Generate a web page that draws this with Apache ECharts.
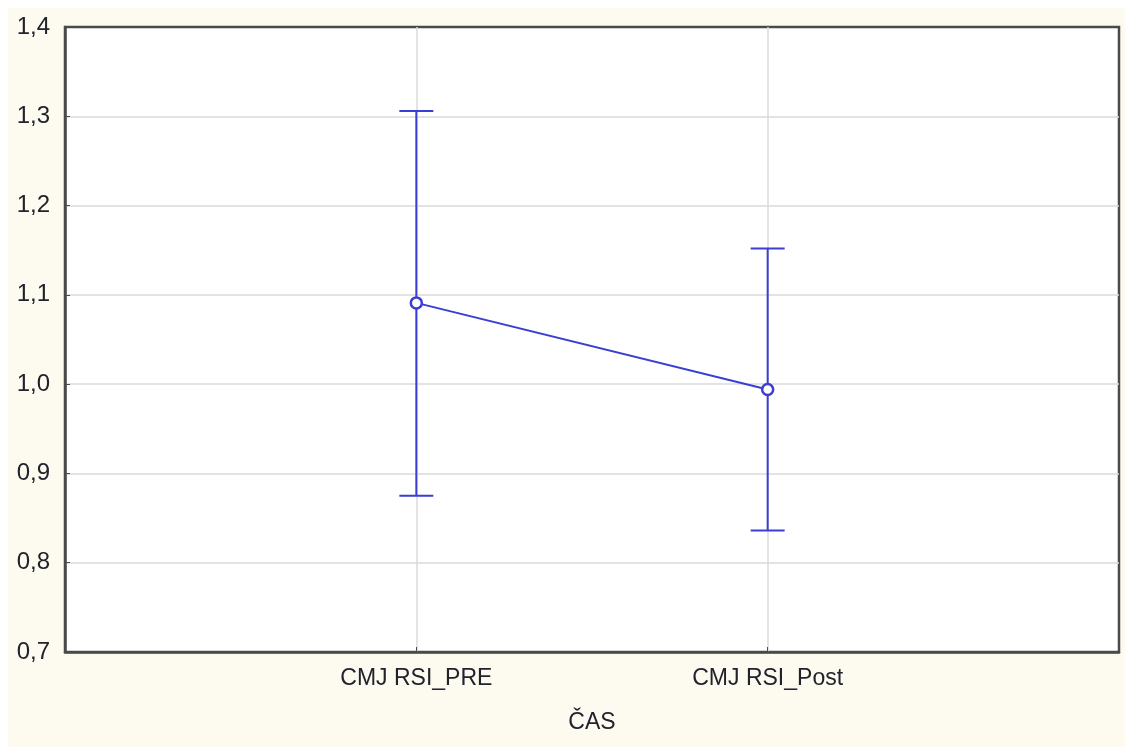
<!DOCTYPE html>
<html>
<head>
<meta charset="utf-8">
<script src="https://cdn.jsdelivr.net/npm/echarts@6/dist/echarts.min.js"></script>
<style>
html,body{margin:0;padding:0;background:#fff;}
#c{width:1136px;height:747px;}
</style>
</head>
<body>
<div id="c"></div>
<script>
var categories = ['CMJ RSI_PRE', 'CMJ RSI_Post'];
var categoryPos = [1, 2];
var means = [1.091, 0.994];
var upper = [1.306, 1.152];
var lower = [0.875, 0.836];
var yTicks = { min: 0.7, max: 1.4, interval: 0.1 };
var xName = 'ČAS';

var blue = '#3a3ed2';
var font = 'Liberation Sans, Arial, sans-serif';
var txt = '#22222c';
var frame = '#4a4a4a';

var meanData = categoryPos.map(function (p, i) { return [p, means[i]]; });
var barData = categoryPos.map(function (p, i) { return [p, lower[i], upper[i]]; });

var chart = echarts.init(document.getElementById('c'));
chart.setOption({
  backgroundColor: '#ffffff',
  animation: false,
  graphic: [{
    type: 'rect', z: -10, silent: true,
    shape: { x: 8, y: 8, width: 1117, height: 739 },
    style: { fill: '#fdfaef' }
  }],
  grid: {
    left: 65, top: 27, right: 17, bottom: 95,
    show: true, backgroundColor: '#ffffff', borderColor: frame, borderWidth: 2.5, z: 0
  },
  xAxis: {
    type: 'value', min: 0, max: 3, interval: 1,
    name: xName, nameLocation: 'middle', nameGap: 59,
    nameTextStyle: { fontFamily: font, fontSize: 23, color: txt },
    axisLine: { show: true, onZero: false, lineStyle: { color: frame, width: 2.5 } },
    axisTick: { show: true, inside: true, length: 5, lineStyle: { color: frame, width: 1 } },
    axisLabel: {
      margin: 15, fontFamily: font, fontSize: 23, color: txt,
      formatter: function (v) {
        var i = categoryPos.indexOf(Math.round(v));
        return (i >= 0 && Math.abs(v - categoryPos[i]) < 1e-6) ? categories[i] : '';
      }
    },
    splitLine: { show: true, showMinLine: false, showMaxLine: false, lineStyle: { color: '#dadada', width: 1.5 } }
  },
  yAxis: {
    type: 'value', min: yTicks.min, max: yTicks.max, interval: yTicks.interval,
    axisLine: { show: true, onZero: false, lineStyle: { color: frame, width: 2.5 } },
    axisTick: { show: true, inside: true, length: 5, lineStyle: { color: frame, width: 1 } },
    axisLabel: {
      margin: 15, fontFamily: font, fontSize: 24, color: txt,
      formatter: function (v) { return v.toFixed(1).replace('.', ','); }
    },
    splitLine: { show: true, showMinLine: false, showMaxLine: false, lineStyle: { color: '#dadada', width: 1.5 } }
  },
  series: [
    {
      type: 'custom',
      data: barData,
      z: 3,
      renderItem: function (params, api) {
        var x = api.value(0);
        var lo = api.coord([x, api.value(1)]);
        var hi = api.coord([x, api.value(2)]);
        var hw = 17;
        var st = { stroke: blue, lineWidth: 2, fill: 'none' };
        return {
          type: 'group',
          children: [
            { type: 'line', shape: { x1: lo[0], y1: lo[1], x2: hi[0], y2: hi[1] }, style: st },
            { type: 'line', shape: { x1: hi[0] - hw, y1: hi[1], x2: hi[0] + hw, y2: hi[1] }, style: st },
            { type: 'line', shape: { x1: lo[0] - hw, y1: lo[1], x2: lo[0] + hw, y2: lo[1] }, style: st }
          ]
        };
      }
    },
    {
      type: 'line',
      data: meanData,
      z: 4,
      symbol: 'circle',
      symbolSize: 11,
      lineStyle: { color: blue, width: 2 },
      itemStyle: { color: '#ffffff', borderColor: blue, borderWidth: 2.5 }
    }
  ]
});
</script>
</body>
</html>
